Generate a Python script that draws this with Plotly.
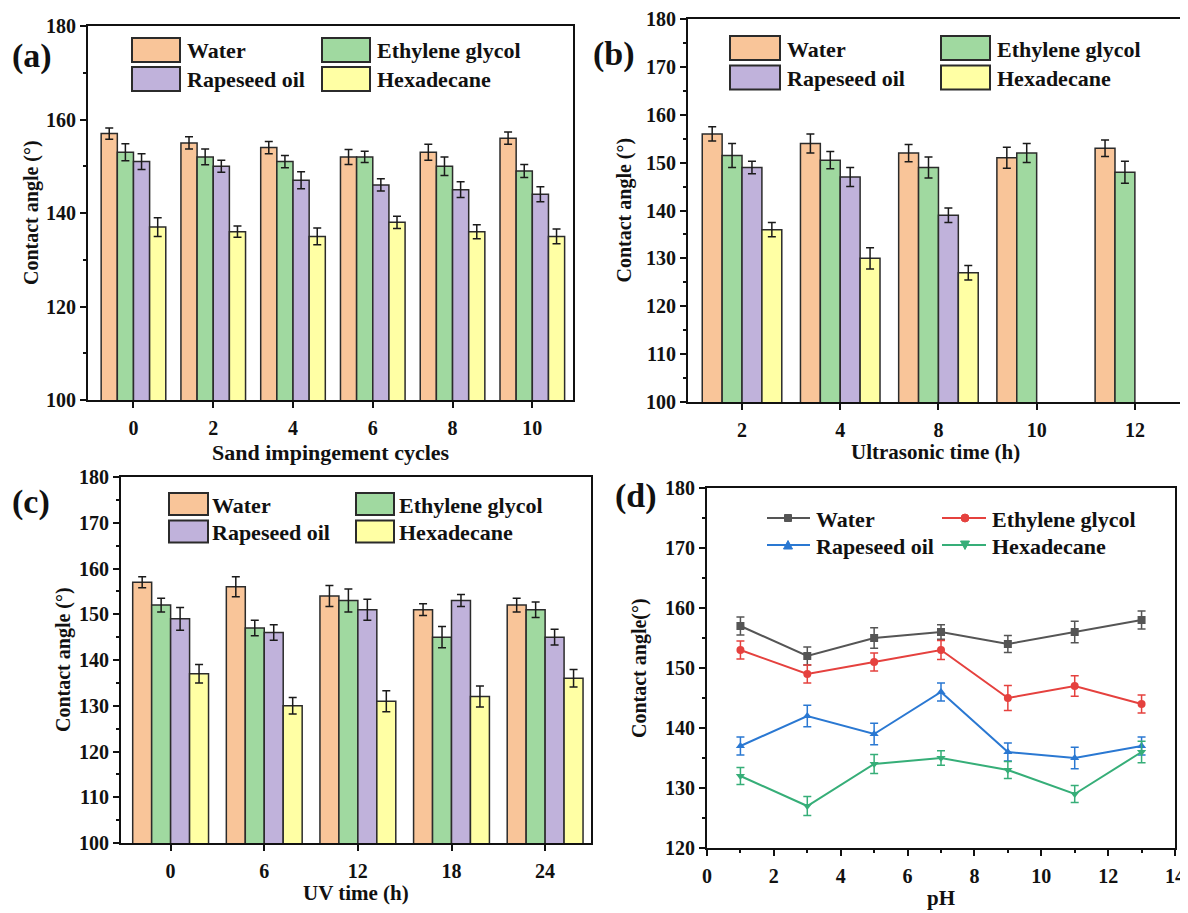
import plotly.graph_objects as go

# page is rendered with an 8px body margin; figure sized to fit the window
OFF = 8
W, H = 1188 - OFF, 913 - OFF
FONT = "Liberation Serif, Times New Roman, serif"

series = ["Water", "Ethylene glycol", "Rapeseed oil", "Hexadecane"]
bar_colors = ["#F9C599", "#A0D9A0", "#C0B2DB", "#FFFFA4"]
line_colors = ["#555555", "#E5413E", "#2A78D2", "#36AE78"]
line_symbols = ["square", "circle", "triangle-up", "triangle-down"]

# (a) sand impingement
a_cats = ["0", "2", "4", "6", "8", "10"]
a_water = [157, 155, 154, 152, 153, 156]
a_eg = [153, 152, 151, 152, 150, 149]
a_rape = [151, 150, 147, 146, 145, 144]
a_hexa = [137, 136, 135, 138, 136, 135]
a_water_err = [1.2, 1.3, 1.3, 1.6, 1.7, 1.3]
a_eg_err = [1.8, 1.7, 1.3, 1.2, 2.0, 1.4]
a_rape_err = [1.7, 1.3, 1.8, 1.3, 1.7, 1.6]
a_hexa_err = [2.0, 1.2, 1.8, 1.3, 1.5, 1.6]

# (b) ultrasonic time
b_cats = ["2", "4", "8", "10", "12"]
b_water = [156, 154, 152, 151, 153]
b_eg = [151.5, 150.5, 149, 152, 148]
b_rape = [149, 147, 139, None, None]
b_hexa = [136, 130, 127, None, None]
b_water_err = [1.5, 2.0, 1.8, 2.2, 1.7]
b_eg_err = [2.5, 1.8, 2.2, 2.0, 2.3]
b_rape_err = [1.3, 2.0, 1.5, None, None]
b_hexa_err = [1.5, 2.2, 1.5, None, None]

# (c) UV time
c_cats = ["0", "6", "12", "18", "24"]
c_water = [157, 156, 154, 151, 152]
c_eg = [152, 147, 153, 145, 151]
c_rape = [149, 146, 151, 153, 145]
c_hexa = [137, 130, 131, 132, 136]
c_water_err = [1.2, 2.2, 2.3, 1.3, 1.5]
c_eg_err = [1.5, 1.7, 2.5, 2.3, 1.7]
c_rape_err = [2.5, 1.7, 2.3, 1.3, 1.7]
c_hexa_err = [2.0, 1.8, 2.3, 2.3, 1.9]

# (d) pH
d_ph = [1, 3, 5, 7, 9, 11, 13]
d_water = [157, 152, 155, 156, 154, 156, 158]
d_eg = [153, 149, 151, 153, 145, 147, 144]
d_rape = [137, 142, 139, 146, 136, 135, 137]
d_hexa = [132, 127, 134, 135, 133, 129, 136]
d_water_err = [1.5, 1.5, 1.7, 1.2, 1.4, 1.8, 1.5]
d_eg_err = [1.5, 1.5, 1.5, 1.6, 2.1, 1.7, 1.5]
d_rape_err = [1.5, 1.8, 1.8, 1.5, 1.5, 1.8, 1.5]
d_hexa_err = [1.4, 1.6, 1.6, 1.2, 1.4, 1.4, 1.8]


def px(x):
    return (x - OFF) / W


def py(y):
    return 1 - (y - OFF) / H


fig = go.Figure()

bar_panels = [
    ("x", "y", a_cats, [a_water, a_eg, a_rape, a_hexa], [a_water_err, a_eg_err, a_rape_err, a_hexa_err]),
    ("x2", "y2", b_cats, [b_water, b_eg, b_rape, b_hexa], [b_water_err, b_eg_err, b_rape_err, b_hexa_err]),
    ("x3", "y3", c_cats, [c_water, c_eg, c_rape, c_hexa], [c_water_err, c_eg_err, c_rape_err, c_hexa_err]),
]
for xa, ya, cats, vals, errs in bar_panels:
    for name, col, v, e in zip(series, bar_colors, vals, errs):
        fig.add_trace(go.Bar(
            x=cats, y=v, name=name, xaxis=xa, yaxis=ya, showlegend=False,
            marker=dict(color=col, line=dict(color="#2b2b2b", width=1.5)),
            error_y=dict(type="data", array=e, color="#1a1a1a", thickness=1.5, width=4),
        ))

for name, col, sym, v, e in zip(series, line_colors, line_symbols,
                                [d_water, d_eg, d_rape, d_hexa],
                                [d_water_err, d_eg_err, d_rape_err, d_hexa_err]):
    fig.add_trace(go.Scatter(
        x=d_ph, y=v, name=name, xaxis="x4", yaxis="y4", showlegend=False,
        mode="lines+markers", line=dict(color=col, width=2),
        marker=dict(symbol=sym, size=8, color=col),
        error_y=dict(type="data", array=e, color=col, thickness=1.5, width=4),
    ))

tickfont = dict(family=FONT, size=20, color="#111", weight="bold")
axis_common = dict(showline=True, linecolor="#111", linewidth=2, mirror=True,
                   ticks="outside", ticklen=6, tickwidth=2, tickcolor="#111",
                   showgrid=False, zeroline=False, tickfont=tickfont, automargin=False)
minor_y = lambda d: dict(dtick=d, ticks="outside", ticklen=3, tickwidth=1.5, tickcolor="#111")

panels = {
    "a": dict(l=88, r=573, t=26, b=400),
    "b": dict(l=688, r=1183, t=19, b=402),
    "c": dict(l=121, r=591, t=477, b=843),
    "d": dict(l=707, r=1175, t=488, b=848),
}


def dom(p):
    return [px(p["l"]), px(p["r"])], [py(p["b"]), py(p["t"])]


xd, yd = dom(panels["a"])
fig.update_layout(
    xaxis=dict(domain=xd, anchor="y", type="category", range=[-0.57, 5.51], ticklabelstandoff=3, **axis_common),
    yaxis=dict(domain=yd, anchor="x", range=[100, 180], dtick=20, minor=minor_y(10), **axis_common),
)
xd, yd = dom(panels["b"])
fig.update_layout(
    xaxis2=dict(domain=xd, anchor="y2", type="category", range=[-0.55, 4.49], ticklabelstandoff=3, **axis_common),
    yaxis2=dict(domain=yd, anchor="x2", range=[100, 180], dtick=10, minor=minor_y(5), **axis_common),
)
xd, yd = dom(panels["c"])
fig.update_layout(
    xaxis3=dict(domain=xd, anchor="y3", type="category", range=[-0.53, 4.49], ticklabelstandoff=3, **axis_common),
    yaxis3=dict(domain=yd, anchor="x3", range=[100, 180], dtick=10, minor=minor_y(5), **axis_common),
)
xd, yd = dom(panels["d"])
fig.update_layout(
    xaxis4=dict(domain=xd, anchor="y4", range=[0, 14], dtick=2, minor=minor_y(1), ticklabelstandoff=3, **axis_common),
    yaxis4=dict(domain=yd, anchor="x4", range=[120, 180], dtick=10, minor=minor_y(5), **axis_common),
)

annotations = []
shapes = []


def text(x, y, s, size, anchor="center", angle=0):
    annotations.append(dict(
        x=px(x), y=py(y), xref="paper", yref="paper", text=s, showarrow=False,
        xanchor=anchor, yanchor="middle", textangle=angle,
        font=dict(family=FONT, size=size, color="#111", weight="bold"),
    ))


# panel letters
text(32, 56, "(a)", 34)
text(614, 54, "(b)", 34)
text(31, 502, "(c)", 34)
text(636, 496, "(d)", 34)

# axis titles
text((88 + 573) / 2, 453, "Sand impingement cycles", 22)
text((688 + 1183) / 2, 452, "Ultrasonic time (h)", 21)
text((121 + 591) / 2, 893, "UV time (h)", 21)
text((707 + 1175) / 2, 898, "pH", 21)
text(32, (26 + 400) / 2, "Contact angle (°)", 20, angle=-90)
text(624, (19 + 402) / 2, "Contact angle (°)", 20, angle=-90)
text(63, (477 + 843) / 2, "Contact angle (°)", 20, angle=-90)
text(639, (488 + 848) / 2, "Contact angle(°)", 20, angle=-90)


# bar legends
def bar_legend(rows, h, cols):
    k = 0
    for r in rows:
        for (sl, sr, tx) in cols:
            shapes.append(dict(type="rect", xref="paper", yref="paper",
                               x0=px(sl), x1=px(sr), y0=py(r + h / 2), y1=py(r - h / 2),
                               fillcolor=bar_colors[k], line=dict(color="#2b2b2b", width=2)))
            text(tx, r + 1, series[k], 22, anchor="left")
            k += 1


bar_legend([50, 79], 24, [(132, 180, 185), (322, 370, 375)])
bar_legend([48, 77.5], 24, [(730, 780, 785), (941, 990, 995)])
bar_legend([504, 531.5], 22, [(169, 208, 210), (356, 394, 397)])

# line legend for (d)
k = 0
for r in [518, 545]:
    for (l0, l1, mx, tx) in [(767, 810, 788, 814), (942, 986, 965, 990)]:
        c = line_colors[k]
        shapes.append(dict(type="line", xref="paper", yref="paper",
                           x0=px(l0), x1=px(l1), y0=py(r), y1=py(r),
                           line=dict(color=c, width=2)))
        s = 3.5
        if line_symbols[k] == "square":
            shapes.append(dict(type="rect", xref="paper", yref="paper",
                               x0=px(mx - s), x1=px(mx + s), y0=py(r + s), y1=py(r - s),
                               fillcolor=c, line=dict(color=c, width=1)))
        elif line_symbols[k] == "circle":
            shapes.append(dict(type="circle", xref="paper", yref="paper",
                               x0=px(mx - 4), x1=px(mx + 4), y0=py(r + 4), y1=py(r - 4),
                               fillcolor=c, line=dict(color=c, width=1)))
        elif line_symbols[k] == "triangle-up":
            path = f"M {px(mx - 4.5)} {py(r + 4)} L {px(mx + 4.5)} {py(r + 4)} L {px(mx)} {py(r - 4.5)} Z"
            shapes.append(dict(type="path", xref="paper", yref="paper", path=path,
                               fillcolor=c, line=dict(color=c, width=1)))
        else:
            path = f"M {px(mx - 4.5)} {py(r - 4)} L {px(mx + 4.5)} {py(r - 4)} L {px(mx)} {py(r + 4.5)} Z"
            shapes.append(dict(type="path", xref="paper", yref="paper", path=path,
                               fillcolor=c, line=dict(color=c, width=1)))
        text(tx, r + 1, series[k], 22, anchor="left")
        k += 1

fig.update_layout(
    width=W, height=H, margin=dict(l=0, r=0, t=0, b=0),
    paper_bgcolor="white", plot_bgcolor="white",
    barmode="group", bargap=0.19, bargroupgap=0,
    showlegend=False,
    annotations=annotations, shapes=shapes,
    font=dict(family=FONT, color="#111"),
)

fig.write_html("out.html")
